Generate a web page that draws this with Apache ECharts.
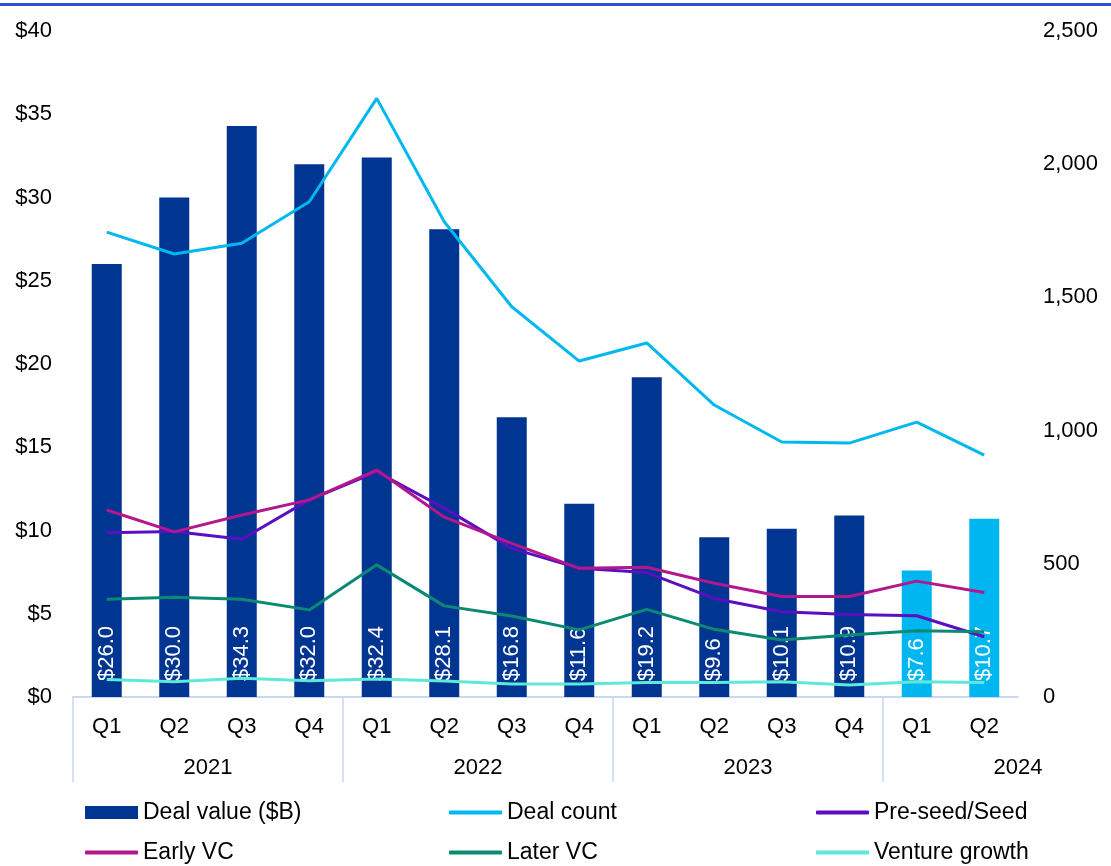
<!DOCTYPE html>
<html><head><meta charset="utf-8">
<script src="https://cdn.jsdelivr.net/npm/echarts@6/dist/echarts.min.js"></script>
<style>html,body{margin:0;padding:0;background:#fff}#c{width:1111px;height:866px}</style>
</head><body><div id="c"></div>
<script>
const quarters = ['Q1','Q2','Q3','Q4','Q1','Q2','Q3','Q4','Q1','Q2','Q3','Q4','Q1','Q2'];
const years = ['2021','2022','2023','2024'];
const dealValue = [26.0,30.0,34.3,32.0,32.4,28.1,16.8,11.6,19.2,9.6,10.1,10.9,7.6,10.7];
const dealCount = [1745,1663,1703,1859,2247,1784,1465,1261,1329,1096,957,953,1032,908];
const preSeed = [617,621,592,740,845,709,558,483,467,370,320,310,305,226];
const earlyVC = [702,620,683,740,852,675,577,483,487,427,377,377,435,392];
const laterVC = [367,374,367,327,496,342,304,252,329,254,214,233,249,245];
const ventureGrowth = [66,57,70,61,68,60,49,49,54,54,57,45,57,54];
const leftTicks = [0,5,10,15,20,25,30,35,40];
const rightTicks = [0,500,1000,1500,2000,2500];

const FONT = "'Liberation Sans', Arial, sans-serif";
const AX = 22, LG = 23;
const NAVY = '#003591', LIGHT = '#00b6f0';
const chart = echarts.init(document.getElementById('c'));
const barData = dealValue.map((v,i)=>({value:v, itemStyle:{color: i>=12 ? LIGHT : NAVY}}));
function lineSeries(name, data, color){
  return {name, type:'line', yAxisIndex:1, data, showSymbol:false, symbol:'none',
    lineStyle:{width:3,color}, itemStyle:{color}, z:3};
}
function lineLegend(name, left, top){
  return {data:[name], left, top, icon:'roundRect', itemWidth:53, itemHeight:4, padding:0,
    itemGap:0, textStyle:{fontSize:LG,color:'#000',fontFamily:FONT}, selectedMode:false};
}
chart.setOption({
  animation:false,
  textStyle:{fontFamily:FONT},
  graphic:[{type:'rect', shape:{x:0,y:3,width:1111,height:3}, style:{fill:'#2a52d8'}}],
  grid:{left:73,right:93,top:31,bottom:169,containLabel:false},
  legend:[
    {data:['Deal value ($B)'], left:85, top:801, icon:'rect', itemWidth:53, itemHeight:13, padding:0,
      textStyle:{fontSize:LG,color:'#000',fontFamily:FONT}, selectedMode:false},
    lineLegend('Deal count',449,801),
    lineLegend('Pre-seed/Seed',816,801),
    lineLegend('Early VC',85,841),
    lineLegend('Later VC',449,841),
    lineLegend('Venture growth',816,841)
  ],
  xAxis:[
    {type:'category', data:quarters, position:'bottom',
      axisLine:{show:true,lineStyle:{color:'#c9d8f5',width:2}},
      axisTick:{show:false},
      axisLabel:{color:'#000',fontSize:AX,margin:19,fontFamily:FONT},
      splitLine:{show:false}},
    {type:'value', min:0, max:14, position:'bottom',
      axisLine:{show:false},
      axisTick:{show:true, customValues:[0,4,8,12], length:85, lineStyle:{color:'#c9d8f5',width:1.5}},
      axisLabel:{show:true, customValues:[2,6,10,14], margin:60, color:'#000', fontSize:AX, fontFamily:FONT,
        formatter:v=>years[Math.round((v-2)/4)]},
      splitLine:{show:false}}
  ],
  yAxis:[
    {type:'value', min:0, max:40, interval:5, position:'left',
      axisLine:{show:false}, axisTick:{show:false}, splitLine:{show:false},
      axisLabel:{color:'#000',fontSize:AX,margin:21,fontFamily:FONT,formatter:v=>'$'+v}},
    {type:'value', min:0, max:2500, interval:500, position:'right',
      axisLine:{show:false}, axisTick:{show:false}, splitLine:{show:false},
      axisLabel:{color:'#000',fontSize:AX,margin:25,fontFamily:FONT,
        formatter:v=>v.toLocaleString('en-US')}}
  ],
  series:[
    {name:'Deal value ($B)', type:'bar', xAxisIndex:0, yAxisIndex:0, data:barData, barWidth:30,
      itemStyle:{color:NAVY}, z:2,
      label:{show:true, position:'insideBottom', distance:16, rotate:90, align:'left', verticalAlign:'middle',
        color:'#fff', fontSize:22, fontFamily:FONT, formatter:p=>'$'+p.value.toFixed(1)}},
    lineSeries('Deal count', dealCount, '#00b8f0'),
    lineSeries('Pre-seed/Seed', preSeed, '#5a10c2'),
    lineSeries('Early VC', earlyVC, '#b3178e'),
    lineSeries('Later VC', laterVC, '#0b8a73'),
    lineSeries('Venture growth', ventureGrowth, '#5ee8d8')
  ]
});
</script></body></html>
